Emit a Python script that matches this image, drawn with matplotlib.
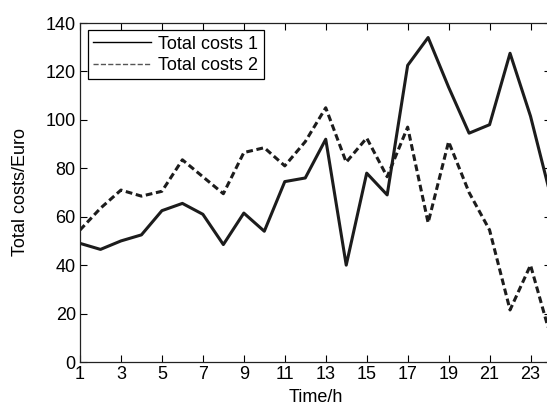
import matplotlib
matplotlib.use('Agg')
import matplotlib.pyplot as plt
from matplotlib.lines import Line2D

hours = list(range(1, 25))
total_costs_1 = [49, 46.5, 50, 52.5, 62.5, 65.5, 61, 48.5, 61.5, 54, 74.5, 76, 92, 40, 78, 69,
                 122.5, 134, 113.5, 94.5, 98, 127.5, 101.5, 68]
total_costs_2 = [54.5, 63.5, 71, 68.5, 70.5, 83.5, 76.5, 69.5, 86.5, 88.5, 81, 91, 105, 82.5, 92.5, 76.5,
                 97, 57.5, 91, 70, 54.5, 21.5, 40, 10]
x_ticks = list(range(1, 24, 2))
y_ticks = list(range(0, 141, 20))

plt.rcParams['font.family'] = ['Liberation Sans', 'DejaVu Sans']
plt.rcParams['font.size'] = 13

fig = plt.figure(figsize=(5.47, 4.11), dpi=100)
# right spine sits just past the image edge, like the reference
ax = fig.add_axes([80 / 547, 49 / 411, 471 / 547, 339 / 411])

line_color = '#1c1c1c'
ax.plot(hours, total_costs_1, color=line_color, lw=2.2, ls='-')
ax.plot(hours, total_costs_2, color=line_color, lw=2.2, ls=(0, (2.2, 1.2)))

ax.set_xlim(1, 24)
ax.set_ylim(0, 140)
ax.set_xticks(x_ticks)
ax.set_yticks(y_ticks)
ax.tick_params(direction='in', top=True, right=True, length=5, width=0.8, pad=3)
for s in ax.spines.values():
    s.set_linewidth(0.9)
    s.set_color('#222222')
ax.set_xlabel('Time/h', labelpad=4)
ax.set_ylabel('Total costs/Euro', labelpad=12)

handles = [Line2D([], [], color='black', lw=1, ls='-'),
           Line2D([], [], color='#555555', lw=1, ls='--')]
leg = ax.legend(handles, ['Total costs 1', 'Total costs 2'], loc='upper left',
                bbox_to_anchor=(0.017, 0.979), borderaxespad=0, fancybox=False,
                handlelength=3.2, handletextpad=0.4, borderpad=0.3, labelspacing=0.25,
                framealpha=1)
leg.get_frame().set_edgecolor('black')
leg.get_frame().set_linewidth(0.9)

fig.savefig('out.png', dpi=100)
